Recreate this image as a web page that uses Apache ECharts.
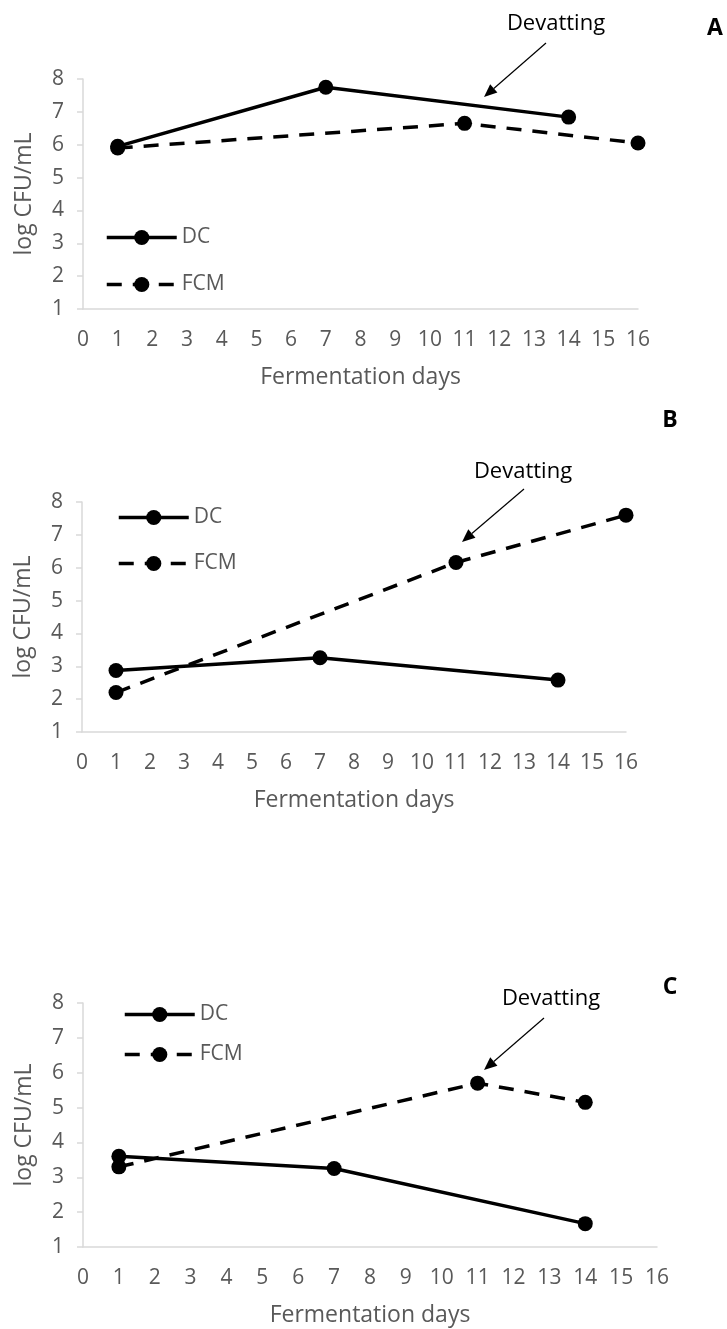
<!DOCTYPE html>
<html>
<head>
<meta charset="utf-8">
<script src="https://cdn.jsdelivr.net/npm/echarts@6/dist/echarts.min.js"></script>
<style>
  html, body { margin: 0; padding: 0; background: #fff; }
  #chart { width: 727px; height: 1329px; }
</style>
</head>
<body>
<div id="chart"></div>
<script>
// panel A
const daysDcA = [1, 7, 14]
const dcA = [5.95, 7.75, 6.84]
const daysFcmA = [1, 11, 16]
const fcmA = [5.9, 6.65, 6.05]

// panel B
const daysDcB = [1, 7, 14]
const dcB = [2.87, 3.26, 2.58]
const daysFcmB = [1, 11, 16]
const fcmB = [2.2, 6.16, 7.6]

// panel C
const daysDcC = [1, 7, 14]
const dcC = [3.6, 3.25, 1.67]
const daysFcmC = [1, 11, 14]
const fcmC = [3.3, 5.7, 5.15]

const seriesNames = ['DC', 'FCM']
const panelLabels = ['A', 'B', 'C']
const xName = 'Fermentation days'
const yName = 'log CFU/mL'
const noteText = 'Devatting'

const font = '"Open Sans", "Liberation Sans", sans-serif'
const grey = '#595959'
const axisGrey = '#d9d9d9'

const grids = [
  { left: 83, top: 79, width: 555, height: 230 },
  { left: 82, top: 502, width: 544, height: 230 },
  { left: 83, top: 1003, width: 574, height: 244 }
]

const legendPos = [
  { left: 105, top: 227, gap: 26 },
  { left: 117, top: 507, gap: 25 },
  { left: 123, top: 1004, gap: 19 }
]

// annotation: text centre, arrow tail, arrow head (pixels)
const notes = [
  { text: [556, 24], tail: [546, 43], head: [484, 97] },
  { text: [523, 472], tail: [524, 489], head: [462, 542] },
  { text: [551, 999], tail: [544, 1018], head: [484, 1070] }
]
const letterPos = [[715, 28], [670, 420], [670, 987]]

function pairs(xs, ys) {
  return xs.map((x, i) => [x, ys[i]])
}

function makeX(i) {
  return {
    type: 'value', gridIndex: i, min: 0, max: 16, interval: 1,
    name: xName, nameLocation: 'middle', nameGap: 57,
    nameTextStyle: { fontFamily: font, fontSize: 23, color: grey },
    axisLine: { lineStyle: { color: axisGrey, width: 1.5 } },
    axisTick: { show: false },
    splitLine: { show: false },
    axisLabel: { fontFamily: font, fontSize: 21, color: grey, margin: 21 }
  }
}

function makeY(i) {
  return {
    type: 'value', gridIndex: i, min: 1, max: 8, interval: 1,
    name: yName, nameLocation: 'middle', nameGap: 47,
    nameTextStyle: { fontFamily: font, fontSize: 23, color: grey },
    axisLine: { show: true, lineStyle: { color: axisGrey, width: 1.5 } },
    axisTick: { show: true, length: 6, lineStyle: { color: axisGrey, width: 1.5 } },
    splitLine: { show: false },
    axisLabel: { fontFamily: font, fontSize: 21, color: grey, margin: 19 }
  }
}

function makeSeries(i, name, data, dashed) {
  return {
    name: name,
    type: 'line',
    xAxisIndex: i,
    yAxisIndex: i,
    data: data,
    symbol: 'circle',
    symbolSize: 15,
    clip: false,
    lineStyle: { color: '#000', width: 3.5, type: dashed ? [15, 11] : 'solid' },
    itemStyle: { color: '#000' }
  }
}

function arrow(n) {
  const [x1, y1] = n.tail
  const [x2, y2] = n.head
  const ang = Math.atan2(y2 - y1, x2 - x1)
  const len = 13, half = 5.5
  const bx = x2 - len * Math.cos(ang), by = y2 - len * Math.sin(ang)
  const px = -Math.sin(ang) * half, py = Math.cos(ang) * half
  return [
    { type: 'line', shape: { x1: x1, y1: y1, x2: bx, y2: by }, style: { stroke: '#000', lineWidth: 1.2 } },
    { type: 'polygon', shape: { points: [[x2, y2], [bx + px, by + py], [bx - px, by - py]] }, style: { fill: '#000' } }
  ]
}

const graphics = []
notes.forEach(n => {
  graphics.push({
    type: 'text', x: n.text[0], y: n.text[1],
    style: { text: noteText, font: '22px ' + font, fill: '#000', align: 'center', verticalAlign: 'middle' }
  })
  arrow(n).forEach(g => graphics.push(g))
})
letterPos.forEach((p, i) => {
  graphics.push({
    type: 'text', x: p[0], y: p[1],
    style: { text: panelLabels[i], font: 'bold 23px ' + font, fill: '#000', align: 'center', verticalAlign: 'middle' }
  })
})

const chart = echarts.init(document.getElementById('chart'), null, { renderer: 'canvas' })

chart.setOption({
  animation: false,
  backgroundColor: '#fff',
  grid: grids,
  xAxis: [makeX(0), makeX(1), makeX(2)],
  yAxis: [makeY(0), makeY(1), makeY(2)],
  legend: legendPos.map(p => ({
    data: seriesNames,
    orient: 'vertical',
    left: p.left,
    top: p.top,
    padding: 0,
    itemGap: p.gap,
    itemWidth: 70,
    itemHeight: 19,
    selectedMode: false,
    lineStyle: { width: 3.5 },
    textStyle: { fontFamily: font, fontSize: 21, color: grey }
  })),
  series: [
    makeSeries(0, 'FCM', pairs(daysFcmA, fcmA), true),
    makeSeries(0, 'DC', pairs(daysDcA, dcA), false),
    makeSeries(1, 'FCM', pairs(daysFcmB, fcmB), true),
    makeSeries(1, 'DC', pairs(daysDcB, dcB), false),
    makeSeries(2, 'FCM', pairs(daysFcmC, fcmC), true),
    makeSeries(2, 'DC', pairs(daysDcC, dcC), false)
  ],
  graphic: graphics
})
</script>
</body>
</html>
